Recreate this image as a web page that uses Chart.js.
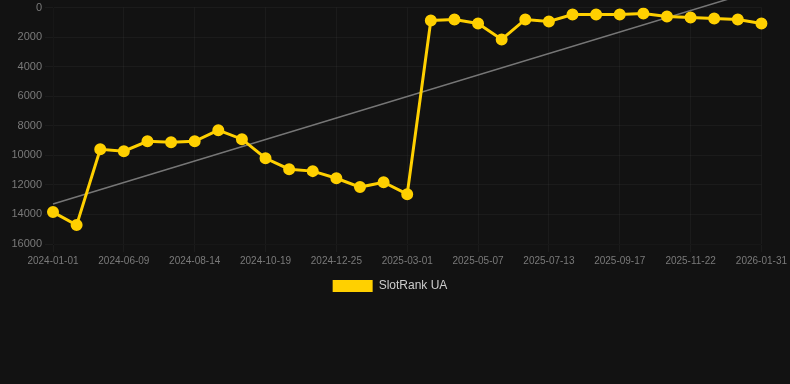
<!DOCTYPE html>
<html>
<head>
<meta charset="utf-8">
<script src="https://cdn.jsdelivr.net/npm/chart.js@4/dist/chart.umd.min.js"></script>
<style>
    html, body { margin: 0; padding: 0; background: #121212; }
    #wrap { width: 790px; height: 302px; position: relative; }
</style>
</head>
<body>
<div id="wrap"><canvas id="rankChart"></canvas></div>
<script>
// dates on the x axis (only every third one is shown)
const dates = [
    '2024-01-01', '2024-04-26', '2024-05-18', '2024-06-09', '2024-07-01', '2024-07-23',
    '2024-08-14', '2024-09-05', '2024-09-27', '2024-10-19', '2024-11-10', '2024-12-03',
    '2024-12-25', '2025-01-16', '2025-02-07', '2025-03-01', '2025-03-23', '2025-04-15',
    '2025-05-07', '2025-05-29', '2025-06-21', '2025-07-13', '2025-08-04', '2025-08-26',
    '2025-09-17', '2025-10-09', '2025-10-31', '2025-11-22', '2025-12-15', '2026-01-07',
    '2026-01-31'
];

// rank values
const slotRank = [
    13840, 14720, 9590, 9720, 9050, 9110,
    9050, 8300, 8910, 10200, 10940, 11070,
    11550, 12150, 11820, 12630, 880, 810,
    1080, 2160, 810, 950, 470, 470,
    470, 400, 610, 680, 740, 810,
    1080
];

// trend line: only the two ends, the line is drawn between them
const trend = [13300].concat(new Array(29).fill(null), [-1250]);

const yTicks = [0, 2000, 4000, 6000, 8000, 10000, 12000, 14000, 16000];

document.addEventListener('DOMContentLoaded', () => {
    const ctx = document.getElementById('rankChart');
    new Chart(ctx, {
        type: 'line',
        data: {
            labels: dates,
            datasets: [{
                label: 'SlotRank UA',
                data: slotRank,
                borderColor: '#ffd000',
                backgroundColor: '#ffd000',
                pointBackgroundColor: '#ffd000',
                pointBorderColor: '#ffd000',
                borderWidth: 3,
                pointRadius: 4.5,
                tension: 0
            }, {
                label: 'trend',
                data: trend,
                borderColor: 'rgba(130, 130, 130, 0.9)',
                borderWidth: 1.5,
                pointRadius: 0,
                spanGaps: true,
                clip: false
            }]
        },
        options: {
            responsive: true,
            maintainAspectRatio: false,
            animation: false,
            layout: { padding: { right: 10 } },
            plugins: {
                legend: {
                    position: 'bottom',
                    labels: {
                        color: '#cccccc',
                        font: { family: 'Liberation Sans', size: 12 },
                        boxWidth: 40,
                        boxHeight: 12,
                        filter: item => item.text !== 'trend',
                        generateLabels: chart => {
                            const items = Chart.defaults.plugins.legend.labels.generateLabels(chart);
                            items.forEach(it => { it.lineWidth = 0; });
                            return items;
                        }
                    }
                },
                tooltip: { enabled: false }
            },
            scales: {
                x: {
                    grid: { color: 'rgba(255, 255, 255, 0.04)' },
                    ticks: {
                        color: '#7a7a7a',
                        font: { family: 'Liberation Sans', size: 10 },
                        maxRotation: 0,
                        autoSkip: false,
                        callback: function (val, i) {
                            return i % 3 === 0 ? this.getLabelForValue(val) : null;
                        }
                    }
                },
                y: {
                    reverse: true,
                    min: 0,
                    max: 16000,
                    afterBuildTicks: axis => {
                        axis.ticks = yTicks.map(v => ({ value: v }));
                    },
                    afterFit: axis => { axis.width = 53; },
                    grid: { color: 'rgba(255, 255, 255, 0.04)' },
                    ticks: {
                        color: '#7a7a7a',
                        font: { family: 'Liberation Sans', size: 11, lineHeight: 0.7 },
                        callback: v => String(v)
                    }
                }
            }
        }
    });
});
</script>
</body>
</html>
